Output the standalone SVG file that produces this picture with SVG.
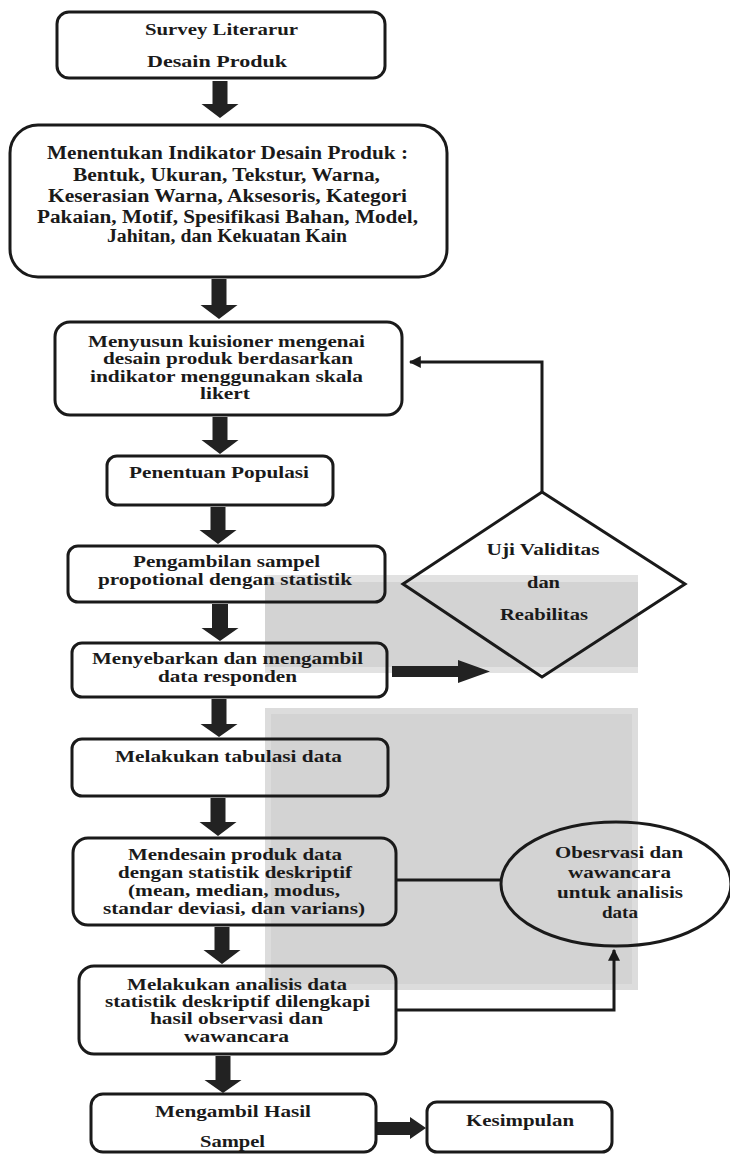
<svg xmlns="http://www.w3.org/2000/svg" width="730" height="1155" viewBox="0 0 730 1155">
<style>
.bx{fill:none;stroke:#1a1a1a;stroke-width:3}
.t{font-family:"Liberation Serif","Times New Roman",serif;font-weight:bold;font-size:16px;fill:#1a1a1a;text-anchor:middle}
.t18{font-size:18px}
.blk{fill:#222;stroke:none}
.ln{fill:none;stroke:#1a1a1a;stroke-width:3}
</style>
<defs>
<marker id="ah" viewBox="0 0 10 10" refX="9" refY="5" markerWidth="4" markerHeight="4" orient="auto" markerUnits="strokeWidth">
<path d="M0,0 L10,5 L0,10 z" fill="#1a1a1a"/>
</marker>
</defs>
<rect width="730" height="1155" fill="#ffffff"/>
<g id="background">
<rect x="265" y="575" width="373" height="98" fill="#e2e2e2"/>
<rect x="265" y="582" width="373" height="85" fill="#d3d3d3"/>
<rect x="265" y="708" width="373" height="282" fill="#dcdcdc"/>
<rect x="271" y="714" width="361" height="270" fill="#d3d3d3"/>
</g>
<g id="connectors">
<polygon class="blk" points="212.5,81 227.5,81 227.5,104 238.5,104 220,118 201.5,104 212.5,104"/>
<polygon class="blk" points="211.5,279 226.5,279 226.5,305 237.5,305 219,319 200.5,305 211.5,305"/>
<polygon class="blk" points="212.5,417 227.5,417 227.5,440 238.5,440 220,454 201.5,440 212.5,440"/>
<polygon class="blk" points="210.5,507 225.5,507 225.5,530 236.5,530 218,544 199.5,530 210.5,530"/>
<polygon class="blk" points="212,604 228,604 228,628 238.5,628 220,641 201.5,628 212,628"/>
<polygon class="blk" points="211.5,699 226.5,699 226.5,724 237.5,724 219,737 200.5,724 211.5,724"/>
<polygon class="blk" points="210.5,798 225.5,798 225.5,822 236.5,822 218,836 199.5,822 210.5,822"/>
<polygon class="blk" points="214.5,927 229.5,927 229.5,950 240.5,950 222,964 203.5,950 214.5,950"/>
<polygon class="blk" points="215.5,1056 230.5,1056 230.5,1080 241.5,1080 223,1093 204.5,1080 215.5,1080"/>
<polygon class="blk" points="392,666 458,666 458,660 490,671.5 458,683 458,677 392,677"/>
<polygon class="blk" points="377,1122 410,1122 410,1117 426,1128 410,1139 410,1135 377,1135"/>
<polyline class="ln" stroke-width="2.5" points="542,492 542,362 410,362" marker-end="url(#ah)"/>
<line class="ln" x1="396" y1="880" x2="501" y2="880"/>
<polyline class="ln" points="396,1010 614,1010 614,950" marker-end="url(#ah)"/>
</g>
<g id="n1">
<rect class="bx" x="57" y="12" width="328" height="66" rx="12"/>
<text class="t" x="221.5" y="35" textLength="153" lengthAdjust="spacingAndGlyphs">Survey Literarur</text>
<text class="t" x="217" y="67" textLength="140" lengthAdjust="spacingAndGlyphs">Desain Produk</text>
</g>
<g id="n2">
<rect class="bx" x="10" y="125" width="437" height="152" rx="28"/>
<text class="t t18" x="227.5" y="159" textLength="361" lengthAdjust="spacingAndGlyphs">Menentukan Indikator Desain Produk :</text>
<text class="t t18" x="226.5" y="181" textLength="307" lengthAdjust="spacingAndGlyphs">Bentuk, Ukuran, Tekstur, Warna,</text>
<text class="t t18" x="227.5" y="202" textLength="359" lengthAdjust="spacingAndGlyphs">Keserasian Warna, Aksesoris, Kategori</text>
<text class="t t18" x="227.5" y="223" textLength="381" lengthAdjust="spacingAndGlyphs">Pakaian, Motif, Spesifikasi Bahan, Model,</text>
<text class="t t18" x="227" y="242" textLength="240" lengthAdjust="spacingAndGlyphs">Jahitan, dan Kekuatan Kain</text>
</g>
<g id="n3">
<rect class="bx" x="55" y="322" width="347" height="93" rx="15"/>
<text class="t" x="226.5" y="347" textLength="277" lengthAdjust="spacingAndGlyphs">Menyusun kuisioner mengenai</text>
<text class="t" x="228" y="364" textLength="250" lengthAdjust="spacingAndGlyphs">desain produk berdasarkan</text>
<text class="t" x="226.5" y="382" textLength="273" lengthAdjust="spacingAndGlyphs">indikator menggunakan skala</text>
<text class="t" x="225" y="399" textLength="50" lengthAdjust="spacingAndGlyphs">likert</text>
</g>
<g id="n4">
<rect class="bx" x="107" y="456" width="226" height="49" rx="10"/>
<text class="t" x="219" y="478" textLength="180" lengthAdjust="spacingAndGlyphs">Penentuan Populasi</text>
</g>
<g id="n5">
<rect class="bx" x="68" y="546" width="317" height="56" rx="10"/>
<text class="t" x="226.5" y="567" textLength="187" lengthAdjust="spacingAndGlyphs">Pengambilan sampel</text>
<text class="t" x="225" y="585" textLength="254" lengthAdjust="spacingAndGlyphs">propotional dengan statistik</text>
</g>
<g id="n6">
<rect class="bx" x="72" y="643" width="315" height="54" rx="10"/>
<text class="t" x="227.5" y="664" textLength="271" lengthAdjust="spacingAndGlyphs">Menyebarkan dan mengambil</text>
<text class="t" x="227.5" y="682" textLength="139" lengthAdjust="spacingAndGlyphs">data responden</text>
</g>
<g id="n7">
<rect class="bx" x="72" y="739" width="316" height="57" rx="10"/>
<text class="t" x="228.5" y="762" textLength="227" lengthAdjust="spacingAndGlyphs">Melakukan tabulasi data</text>
</g>
<g id="n8">
<rect class="bx" x="73" y="838" width="323" height="87" rx="15"/>
<text class="t" x="235" y="860" textLength="214" lengthAdjust="spacingAndGlyphs">Mendesain produk data</text>
<text class="t" x="235" y="878" textLength="234" lengthAdjust="spacingAndGlyphs">dengan statistik deskriptif</text>
<text class="t" x="234" y="896" textLength="212" lengthAdjust="spacingAndGlyphs">(mean, median, modus,</text>
<text class="t" x="234" y="914" textLength="262" lengthAdjust="spacingAndGlyphs">standar deviasi, dan varians)</text>
</g>
<g id="n9">
<rect class="bx" x="79" y="966" width="317" height="88" rx="15"/>
<text class="t" x="237" y="990" textLength="220" lengthAdjust="spacingAndGlyphs">Melakukan analisis data</text>
<text class="t" x="237.5" y="1007" textLength="265" lengthAdjust="spacingAndGlyphs">statistik deskriptif dilengkapi</text>
<text class="t" x="236.5" y="1024" textLength="173" lengthAdjust="spacingAndGlyphs">hasil observasi dan</text>
<text class="t" x="236.5" y="1042" textLength="105" lengthAdjust="spacingAndGlyphs">wawancara</text>
</g>
<g id="n10">
<rect class="bx" x="91" y="1094" width="285" height="58" rx="12"/>
<text class="t" x="233" y="1117" textLength="156" lengthAdjust="spacingAndGlyphs">Mengambil Hasil</text>
<text class="t" x="232.5" y="1147" textLength="65" lengthAdjust="spacingAndGlyphs">Sampel</text>
</g>
<g id="n11">
<rect class="bx" x="427" y="1102" width="185" height="50" rx="10"/>
<text class="t" x="520" y="1126" textLength="108" lengthAdjust="spacingAndGlyphs">Kesimpulan</text>
</g>
<g id="d1">
<polygon class="bx" points="542,492 685,584 542,677 403,584"/>
<text class="t" x="543" y="555" textLength="113" lengthAdjust="spacingAndGlyphs">Uji Validitas</text>
<text class="t" x="543.5" y="588" textLength="33" lengthAdjust="spacingAndGlyphs">dan</text>
<text class="t" x="544" y="620" textLength="88" lengthAdjust="spacingAndGlyphs">Reabilitas</text>
</g>
<g id="e1">
<ellipse class="bx" cx="616" cy="884" rx="115" ry="62"/>
<text class="t" x="619" y="858" textLength="128" lengthAdjust="spacingAndGlyphs">Obesrvasi dan</text>
<text class="t" x="619.5" y="878" textLength="103" lengthAdjust="spacingAndGlyphs">wawancara</text>
<text class="t" x="620" y="898" textLength="126" lengthAdjust="spacingAndGlyphs">untuk analisis</text>
<text class="t" x="620" y="918" textLength="36" lengthAdjust="spacingAndGlyphs">data</text>
</g>
</svg>
